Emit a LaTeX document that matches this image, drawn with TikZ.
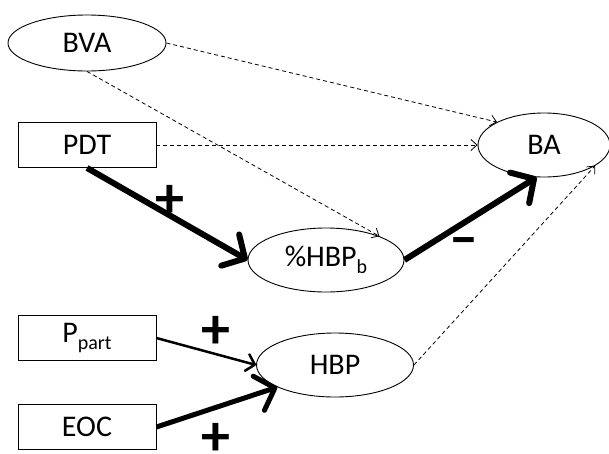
\documentclass[tikz,border=0pt]{standalone}
\usepackage{fontspec}
\setmainfont{Carlito}
\usetikzlibrary{shapes.geometric,arrows.meta}
\newcommand{\lowsub}[1]{\raisebox{-0.45ex}{\fontsize{20}{20}\selectfont #1}}
\begin{document}
\begin{tikzpicture}[x=1pt,y=-1pt,
  every node/.style={font=\fontsize{30}{32}\selectfont},
  latent/.style={draw,ellipse,line width=0.9pt,inner sep=0pt,minimum width=157pt,minimum height=64pt},
  observed/.style={draw,rectangle,line width=0.9pt,inner sep=0pt,minimum width=138pt,minimum height=45pt},
  weak/.style={dash pattern=on 4pt off 3pt,line width=0.8pt,-{Straight Barb[length=6pt,width=11pt]}},
  strong/.style={line width=6pt,-{Straight Barb[length=17pt,width=36pt,round]}},
  medium/.style={line width=2.5pt,-{Straight Barb[length=8pt,width=17pt,round]}},
  sign/.style={font=\fontsize{58}{58}\selectfont\bfseries,inner sep=0pt,text height=0.5em,text depth=0pt}
]
\useasboundingbox (0,0) rectangle (609,453);

% variables
\node[latent,minimum height=56pt,minimum width=158pt] (BVA) at (87,43) {BVA};
\node[observed] (PDT) at (87,145) {PDT};
\node[latent,minimum width=132pt] (BA) at (544,145) {BA};
\node[latent,minimum width=156pt] (HBPb) at (326,260) {\%HBP\lowsub{b}};
\node[observed] (Ppart) at (87,338) {P\lowsub{part}};
\node[latent] (HBP) at (335,365) {HBP};
\node[observed] (EOC) at (87,427) {EOC};

% non-significant paths
\draw[weak] (BVA.east) -- (BA.154);
\draw[weak] (BVA.south) -- (HBPb.24);
\draw[weak] (PDT.east) -- (BA.west);
\draw[weak] (HBP.east) -- (BA.338);

% significant paths
\draw[strong] (PDT.south) -- (HBPb.west);
\draw[strong] (HBPb.east) -- (BA.257);
\draw[medium] (Ppart.east) -- (HBP.west);
\draw[strong,line width=5pt] (EOC.east) -- (HBP.201);

% signs of effects
\node[sign] (s1) at (170,215) {+};
\node[sign] (s2) at (216,346) {+};
\node[sign] (s3) at (216,453) {+};
\node[sign] (s4) at (464,254) {–};
\end{tikzpicture}
\end{document}
